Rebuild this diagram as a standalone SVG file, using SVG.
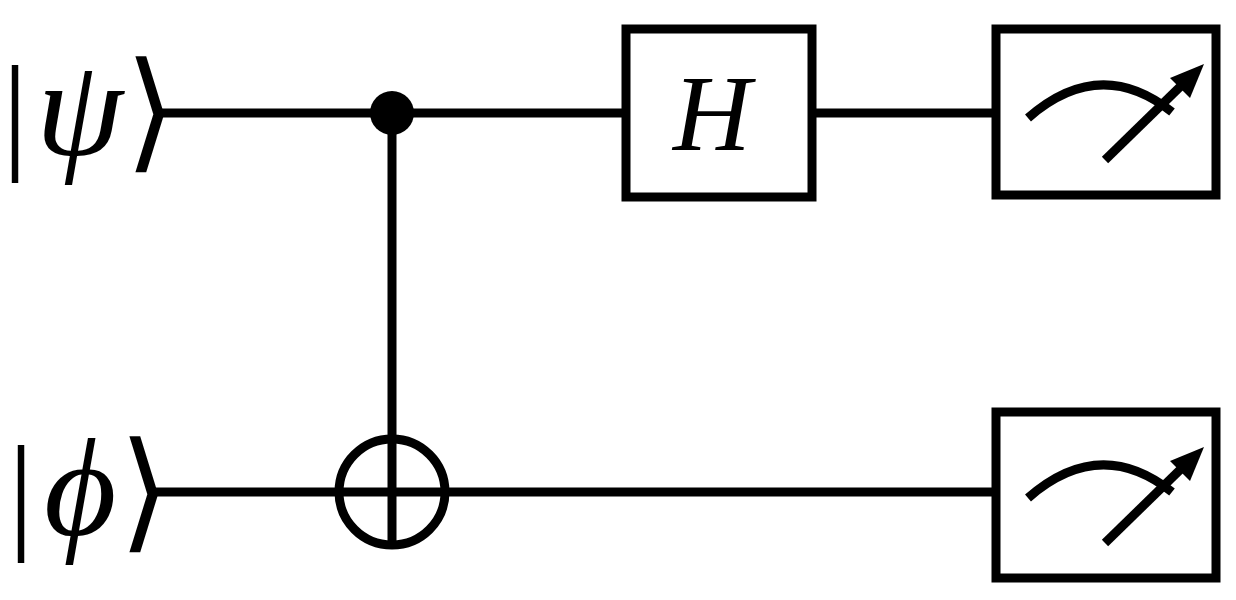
<svg xmlns="http://www.w3.org/2000/svg" width="1236" height="600" viewBox="0 0 1236 600">
<style>
.w{stroke:#000;stroke-width:9;fill:none}
.lbl{font-family:"Liberation Serif",serif;font-size:130px;fill:#000}
.it{font-style:italic;font-size:140px}
.br{font-family:"Liberation Serif",serif;font-size:130px}
</style>
<rect width="1236" height="600" fill="#fff"/>
<g id="connectors">
<line class="w" x1="162" y1="113" x2="622" y2="113"/>
<line class="w" x1="815" y1="113" x2="992" y2="113"/>
<line class="w" x1="155" y1="492" x2="992" y2="492"/>
<line class="w" x1="392" y1="113" x2="392" y2="548"/>
</g>
<g id="label-psi"><text class="lbl" x="2" y="155">|<tspan class="it" dx="8">ψ</tspan><tspan class="br" dx="2">⟩</tspan></text></g>
<g id="label-phi"><text class="lbl" x="8" y="535">|<tspan class="it" dx="10">ϕ</tspan><tspan class="br" dx="2">⟩</tspan></text></g>
<g id="control"><circle cx="392" cy="113" r="22" fill="#000"/></g>
<g id="target"><circle class="w" cx="392" cy="492" r="53"/></g>
<g id="hadamard"><rect class="w" x="626" y="29" width="186" height="168" fill="#fff"/>
<text x="712" y="150" text-anchor="middle" font-family="Liberation Serif,serif" font-style="italic" font-size="108">H</text></g>
<g id="meter1"><rect class="w" x="996" y="29" width="220" height="166" fill="#fff"/>
<path class="w" d="M1028,118 Q1100,55 1172,112"/><line class="w" x1="1105" y1="160" x2="1185" y2="82"/>
<polygon points="1204,64 1170,78 1190,98"/></g>
<g id="meter2"><rect class="w" x="996" y="412" width="220" height="166" fill="#fff"/>
<path class="w" d="M1028,498 Q1100,435 1172,492"/><line class="w" x1="1105" y1="543" x2="1185" y2="465"/>
<polygon points="1204,447 1170,461 1190,481"/></g>
</svg>
